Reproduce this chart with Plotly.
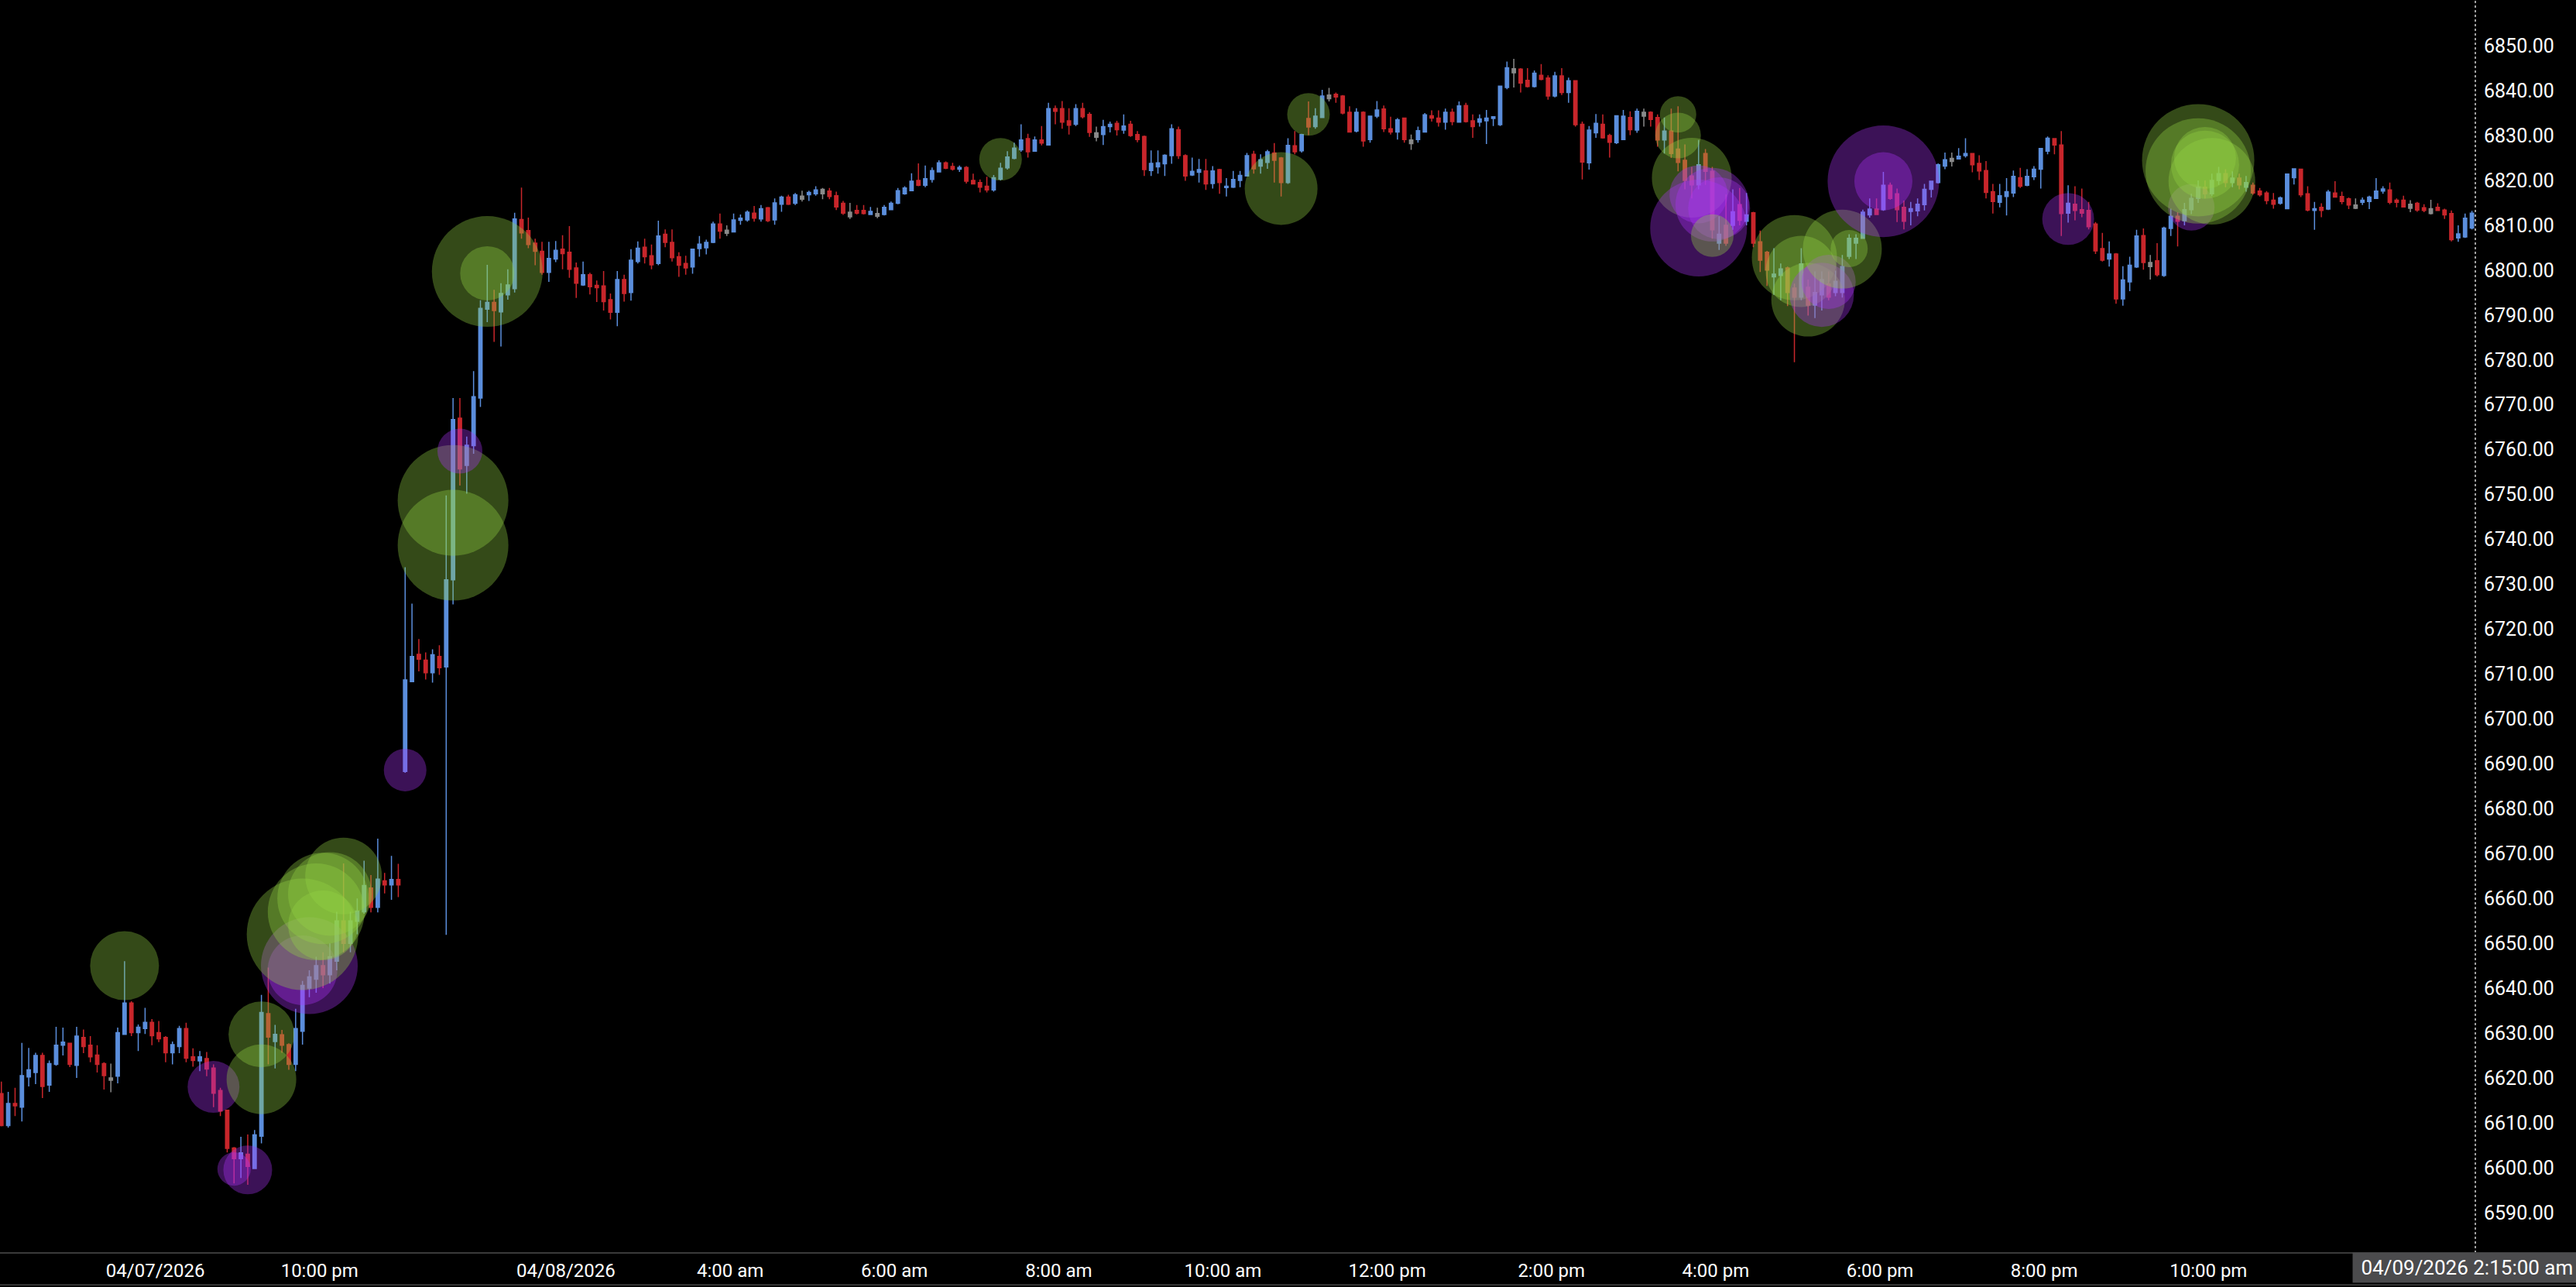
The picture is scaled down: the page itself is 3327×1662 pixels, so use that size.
import plotly.graph_objects as go

# ---------------- data (5-minute bars, indexed 0..361) ----------------
opens = [
    6616.5, 6609.4, 6614.3, 6613.5, 6620.2, 6621.2, 6625.0, 6618.4, 6623.0, 6627.3,
    6627.7, 6622.8, 6629.0, 6627.3, 6625.1, 6623.2, 6620.0, 6620.4, 6629.7, 6636.7,
    6630.1, 6631.0, 6632.4, 6630.1, 6629.0, 6625.6, 6627.0, 6631.0, 6624.7, 6623.8,
    6624.3, 6622.2, 6617.2, 6612.8, 6604.4, 6602.0, 6603.0, 6599.8, 6607.0, 6634.3,
    6628.1, 6629.6, 6627.4, 6623.0, 6630.4, 6640.0, 6642.0, 6645.0, 6643.0, 6646.0,
    6655.0, 6650.0, 6654.9, 6657.0, 6662.3, 6658.0, 6663.9, 6663.0, 6664.2, 6688.3,
    6708.3, 6714.4, 6713.1, 6710.3, 6713.9, 6711.6, 6731.0, 6767.0, 6756.5, 6760.9,
    6771.5, 6791.3, 6792.8, 6790.7, 6794.5, 6795.9, 6811.3, 6808.8, 6806.0, 6804.2,
    6799.5, 6802.5, 6804.7, 6804.0, 6800.5, 6796.7, 6799.0, 6796.6, 6796.5, 6793.4,
    6790.6, 6797.9, 6795.0, 6801.9, 6805.1, 6803.2, 6801.5, 6808.0, 6806.2, 6803.0,
    6801.5, 6800.7, 6804.8, 6805.0, 6806.2, 6810.3, 6808.9, 6808.5, 6811.1, 6811.2,
    6812.7, 6811.4, 6813.9, 6811.2, 6814.7, 6816.3, 6814.9, 6816.5, 6816.8, 6817.0,
    6818.0, 6817.6, 6816.6, 6814.9, 6812.9, 6813.3, 6813.3, 6812.4, 6812.6, 6812.4,
    6813.5, 6814.9, 6817.0, 6817.7, 6820.0, 6818.9, 6820.2, 6821.9, 6823.9, 6823.1,
    6822.5, 6822.9, 6820.0, 6819.5, 6818.7, 6817.9, 6820.3, 6822.8, 6824.9, 6826.8,
    6829.3, 6826.5, 6829.0, 6827.9, 6836.0, 6836.0, 6833.3, 6832.5, 6836.0, 6834.7,
    6830.6, 6830.2, 6832.0, 6832.7, 6831.2, 6832.5, 6830.2, 6829.8, 6822.2, 6823.0,
    6823.7, 6825.5, 6831.3, 6825.5, 6821.2, 6821.8, 6822.1, 6819.3, 6822.4, 6818.4,
    6818.5, 6820.0, 6821.0, 6825.8, 6823.2, 6824.0, 6826.1, 6825.0, 6819.5, 6827.7,
    6826.6, 6833.8, 6832.0, 6834.0, 6839.0, 6839.2, 6838.8, 6835.2, 6831.0, 6835.2,
    6829.1, 6834.3, 6835.9, 6831.5, 6830.8, 6833.9, 6829.0, 6829.1, 6830.8, 6834.4,
    6833.9, 6833.0, 6835.2, 6833.0, 6836.7, 6833.3, 6833.0, 6833.3, 6833.8, 6832.4,
    6840.7, 6844.9, 6844.8, 6842.3, 6840.9, 6843.4, 6842.8, 6838.8, 6843.3, 6839.6,
    6842.2, 6832.5, 6823.9, 6830.6, 6832.5, 6830.0, 6828.4, 6829.1, 6834.0, 6831.2,
    6835.2, 6835.2, 6834.0, 6829.0, 6831.0, 6827.0, 6824.5, 6821.0, 6819.0, 6826.0,
    6822.0, 6806.0, 6810.0, 6810.0, 6814.6, 6810.9, 6812.8, 6806.3, 6804.0, 6798.5,
    6798.8, 6800.5, 6796.0, 6794.0, 6796.2, 6792.2, 6794.5, 6796.9, 6795.0, 6795.0,
    6803.1, 6806.0, 6807.1, 6812.3, 6813.6, 6813.5, 6818.9, 6817.0, 6814.0, 6813.1,
    6813.2, 6814.6, 6818.0, 6819.5, 6823.2, 6824.9, 6824.8, 6825.5, 6826.0, 6823.8,
    6822.2, 6817.5, 6815.1, 6816.4, 6817.2, 6820.6, 6818.9, 6820.8, 6822.5, 6826.5,
    6829.3, 6827.9, 6812.7, 6814.7, 6813.5, 6813.3, 6810.3, 6804.8, 6802.5, 6803.6,
    6793.6, 6797.4, 6800.7, 6807.7, 6801.7, 6802.1, 6798.8, 6809.3, 6812.0, 6811.0,
    6813.5, 6816.0, 6818.5, 6817.0, 6820.0, 6821.5, 6819.5, 6820.5, 6818.5, 6818.9,
    6817.6, 6817.2, 6815.6, 6814.9, 6813.7, 6820.6, 6822.5, 6817.0, 6813.3, 6814.0,
    6813.6, 6817.2, 6816.4, 6815.9, 6814.5, 6815.1, 6815.3, 6816.0, 6817.6, 6817.9,
    6815.6, 6815.6, 6814.7, 6814.9, 6813.9, 6813.7, 6814.0, 6813.4, 6812.6, 6807.2,
    6807.4, 6809.4,
]
highs = [
    6619.2, 6616.9, 6617.8, 6627.8, 6626.7, 6625.6, 6625.6, 6623.9, 6631.4, 6631.2,
    6627.8, 6631.4, 6630.8, 6629.3, 6627.3, 6623.5, 6623.2, 6631.2, 6646.0, 6637.1,
    6631.9, 6635.6, 6633.1, 6632.7, 6629.3, 6628.1, 6631.6, 6632.3, 6626.6, 6626.0,
    6625.8, 6623.0, 6617.8, 6612.8, 6604.6, 6606.9, 6607.4, 6608.4, 6638.5, 6644.6,
    6631.8, 6630.7, 6627.7, 6635.4, 6641.6, 6644.0, 6647.0, 6648.0, 6650.0, 6657.0,
    6667.8, 6657.0, 6660.0, 6668.4, 6665.2, 6673.3, 6665.7, 6669.5, 6667.7, 6733.8,
    6725.7, 6717.8, 6714.8, 6715.5, 6716.4, 6749.8, 6771.5, 6771.5, 6762.9, 6777.5,
    6793.3, 6801.2, 6795.6, 6797.1, 6800.2, 6812.8, 6818.4, 6811.7, 6807.0, 6806.3,
    6806.3, 6806.5, 6807.8, 6809.8, 6801.7, 6801.9, 6799.4, 6797.7, 6799.8, 6794.8,
    6799.8, 6799.0, 6804.7, 6806.4, 6807.0, 6805.7, 6811.0, 6809.1, 6809.1, 6804.0,
    6803.2, 6804.8, 6807.6, 6806.8, 6810.8, 6812.6, 6810.0, 6812.6, 6812.4, 6813.3,
    6814.3, 6814.5, 6814.1, 6816.0, 6816.6, 6816.8, 6817.2, 6817.7, 6817.7, 6818.7,
    6818.3, 6818.3, 6817.5, 6815.4, 6815.0, 6814.5, 6814.5, 6814.1, 6813.9, 6814.5,
    6815.3, 6818.3, 6818.7, 6821.6, 6823.8, 6823.3, 6822.9, 6824.5, 6824.2, 6823.9,
    6823.3, 6823.2, 6821.5, 6820.2, 6820.8, 6821.2, 6823.9, 6826.5, 6828.4, 6832.5,
    6830.4, 6829.8, 6832.1, 6837.3, 6836.7, 6837.7, 6836.1, 6837.0, 6837.3, 6835.2,
    6832.0, 6833.5, 6833.1, 6833.3, 6834.7, 6833.3, 6831.0, 6830.0, 6826.7, 6826.7,
    6825.8, 6832.5, 6832.0, 6825.8, 6825.1, 6824.8, 6824.8, 6823.2, 6822.6, 6820.5,
    6822.1, 6822.1, 6826.1, 6826.6, 6825.8, 6826.8, 6828.3, 6825.2, 6829.4, 6831.0,
    6830.4, 6837.6, 6836.1, 6840.2, 6840.6, 6839.6, 6839.0, 6836.5, 6836.1, 6835.4,
    6834.4, 6837.7, 6836.7, 6834.2, 6833.9, 6834.0, 6830.2, 6832.0, 6835.0, 6835.6,
    6835.6, 6836.0, 6836.0, 6837.6, 6837.3, 6834.7, 6834.7, 6835.7, 6834.3, 6841.1,
    6846.5, 6847.1, 6845.0, 6845.0, 6844.5, 6845.9, 6843.4, 6844.2, 6845.0, 6842.9,
    6842.3, 6833.1, 6832.1, 6834.8, 6834.7, 6830.4, 6834.4, 6835.7, 6835.4, 6836.0,
    6836.0, 6835.4, 6834.7, 6834.0, 6836.0, 6836.5, 6828.0, 6823.0, 6829.0, 6827.0,
    6823.0, 6812.0, 6816.9, 6818.0, 6818.3, 6817.2, 6813.0, 6808.8, 6804.3, 6804.9,
    6801.5, 6800.8, 6797.0, 6804.9, 6797.9, 6799.7, 6799.7, 6799.7, 6799.9, 6803.4,
    6808.0, 6808.0, 6813.5, 6816.0, 6816.0, 6821.9, 6819.5, 6818.2, 6815.5, 6815.2,
    6816.0, 6819.2, 6819.9, 6823.8, 6826.2, 6826.2, 6827.2, 6829.4, 6826.1, 6825.6,
    6824.3, 6819.2, 6819.2, 6820.5, 6822.2, 6822.8, 6822.5, 6823.2, 6827.2, 6829.8,
    6829.4, 6831.0, 6818.9, 6818.7, 6818.2, 6815.2, 6810.7, 6808.3, 6806.4, 6803.8,
    6800.9, 6803.0, 6809.0, 6809.3, 6803.4, 6806.0, 6809.7, 6813.7, 6812.9, 6815.0,
    6817.0, 6820.0, 6820.0, 6821.5, 6823.0, 6822.5, 6822.0, 6821.5, 6821.0, 6819.5,
    6818.3, 6817.6, 6817.2, 6816.4, 6821.5, 6822.7, 6822.5, 6818.7, 6815.2, 6814.9,
    6817.9, 6819.8, 6817.5, 6816.2, 6816.0, 6816.2, 6816.6, 6820.5, 6818.7, 6819.5,
    6816.0, 6816.6, 6815.6, 6815.2, 6814.7, 6815.7, 6814.9, 6813.7, 6813.3, 6810.0,
    6812.6, 6813.2,
]
lows = [
    6609.2, 6608.9, 6611.5, 6610.3, 6618.1, 6618.6, 6615.5, 6616.9, 6622.7, 6625.0,
    6622.4, 6620.0, 6625.5, 6623.5, 6621.2, 6617.4, 6616.8, 6618.8, 6629.6, 6629.3,
    6626.0, 6629.8, 6627.3, 6628.0, 6623.5, 6623.0, 6625.5, 6623.5, 6622.5, 6621.5,
    6620.4, 6613.5, 6611.5, 6603.4, 6596.5, 6597.7, 6596.2, 6599.7, 6605.4, 6623.0,
    6622.1, 6625.6, 6621.8, 6621.5, 6627.4, 6638.0, 6639.0, 6640.0, 6641.0, 6644.0,
    6648.0, 6648.0, 6652.0, 6656.6, 6656.9, 6656.9, 6661.1, 6659.7, 6660.3, 6688.0,
    6708.3, 6710.6, 6708.8, 6708.1, 6709.8, 6651.9, 6725.5, 6752.0, 6750.2, 6759.1,
    6769.5, 6788.4, 6784.0, 6783.0, 6793.4, 6795.0, 6807.0, 6804.9, 6801.1, 6799.0,
    6797.4, 6801.8, 6800.2, 6798.3, 6793.8, 6796.5, 6794.6, 6792.9, 6791.0, 6789.0,
    6787.5, 6793.0, 6793.2, 6801.5, 6801.5, 6800.2, 6801.1, 6805.1, 6801.9, 6798.5,
    6799.0, 6799.2, 6803.0, 6803.5, 6806.0, 6807.0, 6807.6, 6808.4, 6810.1, 6810.8,
    6810.8, 6810.8, 6810.7, 6810.1, 6813.0, 6814.5, 6814.5, 6815.3, 6815.4, 6816.6,
    6815.8, 6815.8, 6813.4, 6812.3, 6811.4, 6812.4, 6812.4, 6812.3, 6811.6, 6812.2,
    6813.4, 6814.7, 6816.8, 6817.6, 6818.7, 6818.5, 6819.5, 6821.8, 6822.5, 6822.2,
    6821.9, 6819.3, 6819.1, 6817.3, 6817.3, 6817.5, 6820.0, 6822.4, 6824.7, 6826.4,
    6825.1, 6826.4, 6827.8, 6827.9, 6832.5, 6831.5, 6830.2, 6832.1, 6833.8, 6829.7,
    6828.7, 6827.9, 6830.7, 6830.0, 6830.4, 6829.7, 6828.5, 6821.0, 6821.0, 6821.5,
    6821.0, 6823.7, 6824.8, 6819.9, 6821.0, 6819.5, 6817.9, 6818.2, 6817.0, 6816.4,
    6818.3, 6818.5, 6820.9, 6821.5, 6821.5, 6822.6, 6819.5, 6816.4, 6819.2, 6825.8,
    6826.2, 6830.1, 6831.5, 6833.9, 6837.6, 6837.3, 6834.7, 6830.7, 6830.7, 6827.5,
    6828.4, 6833.9, 6830.8, 6830.2, 6829.1, 6828.4, 6826.8, 6828.4, 6830.7, 6833.1,
    6832.0, 6831.3, 6832.3, 6832.9, 6832.9, 6829.5, 6832.0, 6828.1, 6832.1, 6832.1,
    6840.3, 6840.7, 6839.6, 6840.7, 6840.7, 6842.3, 6838.0, 6838.5, 6839.0, 6837.3,
    6832.0, 6820.2, 6822.4, 6829.5, 6829.3, 6825.1, 6828.1, 6829.0, 6830.1, 6830.6,
    6832.0, 6832.0, 6827.5, 6826.0, 6825.0, 6822.0, 6818.0, 6816.0, 6818.0, 6819.0,
    6807.0, 6804.5, 6805.4, 6809.0, 6810.0, 6810.0, 6805.1, 6799.6, 6796.5, 6794.5,
    6793.3, 6792.0, 6779.5, 6793.3, 6789.9, 6789.3, 6791.0, 6793.3, 6794.2, 6793.9,
    6802.5, 6802.5, 6807.1, 6811.7, 6812.3, 6813.2, 6815.7, 6810.7, 6809.1, 6810.0,
    6812.0, 6813.3, 6816.2, 6819.3, 6822.5, 6823.1, 6824.7, 6825.1, 6821.8, 6820.1,
    6816.0, 6812.6, 6814.0, 6812.2, 6816.3, 6818.3, 6818.7, 6820.1, 6818.2, 6825.8,
    6825.8, 6807.6, 6810.6, 6811.1, 6811.8, 6809.1, 6803.6, 6801.9, 6800.8, 6792.5,
    6792.1, 6795.3, 6800.5, 6800.1, 6797.9, 6798.6, 6798.5, 6807.6, 6805.3, 6810.0,
    6812.5, 6815.0, 6816.0, 6816.5, 6819.0, 6818.5, 6818.5, 6818.0, 6817.5, 6816.8,
    6816.4, 6814.7, 6813.7, 6814.6, 6813.6, 6819.1, 6816.3, 6813.1, 6809.0, 6811.8,
    6813.4, 6816.2, 6814.7, 6813.6, 6813.6, 6814.5, 6813.6, 6815.9, 6817.0, 6814.7,
    6814.0, 6814.0, 6812.9, 6813.0, 6812.9, 6812.4, 6813.2, 6811.4, 6806.4, 6806.3,
    6807.2, 6809.1,
]
closes = [
    6609.4, 6614.3, 6613.8, 6620.5, 6621.8, 6625.0, 6618.1, 6623.2, 6627.3, 6628.0,
    6623.0, 6629.3, 6627.0, 6624.7, 6623.0, 6620.5, 6619.5, 6630.1, 6636.7, 6630.1,
    6631.3, 6632.4, 6629.4, 6628.7, 6625.6, 6627.4, 6631.0, 6624.4, 6623.9, 6624.7,
    6622.0, 6616.6, 6612.6, 6604.3, 6602.0, 6603.3, 6600.3, 6607.3, 6634.6, 6629.1,
    6629.7, 6627.3, 6623.0, 6631.0, 6640.6, 6642.5, 6645.0, 6643.0, 6647.0, 6655.0,
    6650.0, 6655.0, 6657.2, 6662.9, 6658.0, 6664.3, 6663.0, 6664.2, 6663.0, 6708.7,
    6713.9, 6713.3, 6710.3, 6714.3, 6711.4, 6731.0, 6766.7, 6755.7, 6761.0, 6771.8,
    6791.5, 6792.8, 6791.0, 6794.8, 6796.7, 6811.4, 6808.3, 6805.7, 6804.2, 6799.5,
    6802.6, 6804.4, 6803.7, 6800.2, 6797.1, 6799.0, 6796.3, 6796.1, 6793.0, 6790.6,
    6797.9, 6794.8, 6802.2, 6804.9, 6803.0, 6801.2, 6807.6, 6806.2, 6802.8, 6801.1,
    6800.5, 6804.7, 6805.8, 6806.2, 6810.3, 6808.7, 6808.2, 6811.2, 6811.6, 6812.9,
    6811.6, 6813.7, 6811.0, 6815.0, 6816.3, 6814.7, 6816.8, 6815.8, 6817.3, 6817.9,
    6817.0, 6816.4, 6814.1, 6812.7, 6811.9, 6812.7, 6812.6, 6813.1, 6812.0, 6814.0,
    6814.9, 6817.7, 6818.3, 6819.8, 6818.9, 6820.4, 6822.2, 6823.9, 6822.7, 6822.5,
    6822.9, 6819.8, 6819.2, 6818.5, 6817.9, 6820.6, 6822.7, 6825.2, 6827.2, 6829.0,
    6826.4, 6829.0, 6828.3, 6836.0, 6835.4, 6833.0, 6832.3, 6836.0, 6834.2, 6830.7,
    6829.6, 6832.0, 6832.5, 6831.3, 6832.1, 6830.0, 6829.1, 6822.4, 6823.8, 6823.9,
    6825.6, 6831.5, 6825.5, 6821.0, 6822.0, 6822.4, 6819.2, 6822.1, 6819.5, 6818.7,
    6820.2, 6821.1, 6825.5, 6822.6, 6824.6, 6826.4, 6824.5, 6819.5, 6827.8, 6826.4,
    6830.2, 6831.9, 6834.3, 6838.8, 6838.2, 6838.6, 6835.0, 6830.8, 6835.2, 6828.8,
    6834.3, 6835.7, 6831.5, 6830.8, 6833.5, 6829.1, 6828.2, 6831.1, 6834.6, 6833.9,
    6833.0, 6835.2, 6833.1, 6836.6, 6833.1, 6832.0, 6833.7, 6833.9, 6834.2, 6841.0,
    6845.1, 6844.0, 6841.7, 6840.9, 6843.9, 6842.5, 6838.8, 6843.3, 6839.6, 6842.2,
    6832.4, 6824.1, 6831.2, 6832.7, 6829.5, 6828.5, 6834.4, 6834.3, 6831.3, 6835.4,
    6834.3, 6833.6, 6829.0, 6831.0, 6826.0, 6824.0, 6820.0, 6819.0, 6823.5, 6822.0,
    6809.0, 6808.0, 6806.0, 6813.0, 6811.1, 6812.3, 6806.0, 6802.2, 6800.0, 6799.1,
    6800.3, 6795.0, 6794.0, 6801.4, 6792.2, 6795.0, 6797.9, 6794.0, 6797.5, 6800.8,
    6807.1, 6807.1, 6812.9, 6813.6, 6812.4, 6818.9, 6816.0, 6813.5, 6810.9, 6813.7,
    6814.7, 6818.0, 6819.8, 6823.5, 6824.6, 6824.2, 6825.4, 6826.0, 6823.5, 6822.1,
    6817.3, 6815.3, 6816.6, 6817.5, 6820.9, 6818.7, 6820.9, 6822.5, 6827.1, 6829.4,
    6827.9, 6812.6, 6814.9, 6813.3, 6812.7, 6809.7, 6804.3, 6802.2, 6803.6, 6793.6,
    6797.8, 6801.1, 6807.6, 6801.7, 6800.8, 6799.0, 6809.4, 6812.0, 6810.9, 6813.5,
    6816.0, 6818.5, 6817.0, 6820.0, 6821.5, 6819.5, 6820.5, 6819.0, 6819.5, 6817.2,
    6816.8, 6815.5, 6814.7, 6816.1, 6821.4, 6822.6, 6816.8, 6813.4, 6813.7, 6813.3,
    6817.4, 6816.3, 6815.3, 6814.5, 6813.8, 6815.6, 6816.3, 6817.6, 6818.1, 6815.1,
    6815.1, 6814.1, 6813.8, 6813.4, 6813.3, 6812.6, 6813.3, 6812.3, 6806.8, 6808.1,
    6811.6, 6812.7,
]
# bars printed as unchanged (grey) candles
doji_bars = [16, 106, 117, 120, 124, 128, 160, 194, 206, 221, 240, 285, 314, 344, 352, 355]

# volume bubbles: bar index, price, traded volume, aggressor side
bubble_bar = [18, 31, 38, 38, 34, 36, 45, 44, 44, 46,
              47, 48, 47, 50, 59, 66, 66, 67, 71, 71,
              146, 187, 191, 245, 245, 247, 248, 250, 251, 248,
              250, 262, 263, 264, 266, 267, 269, 270, 275, 275,
              302, 320, 321, 321, 322, 323, 322]
bubble_price = [6645.0, 6618.0, 6629.7, 6619.7, 6599.7, 6599.5, 6645.0, 6644.0, 6652.0, 6657.0,
                6660.0, 6661.0, 6654.0, 6665.0, 6688.6, 6748.7, 6738.7, 6759.7, 6799.7, 6799.3,
                6824.7, 6818.2, 6834.7, 6834.7, 6830.0, 6820.6, 6809.4, 6814.6, 6813.8, 6816.9,
                6807.7, 6802.8, 6799.7, 6793.4, 6794.5, 6797.4, 6804.7, 6804.8, 6819.8, 6819.8,
                6811.4, 6814.0, 6824.5, 6822.1, 6823.5, 6819.8, 6825.0]
bubble_vol = [792, 449, 723, 810, 185, 397, 1563, 810, 2074, 1563,
              1392, 1166, 810, 980, 303, 2045, 2045, 336, 2045, 490,
              303, 884, 303, 221, 348, 1061, 1563, 903, 640, 563,
              303, 1210, 846, 903, 689, 490, 1040, 230, 2074, 563,
              449, 360, 2103, 1850, 774, 1254, 640]
bubble_side = ['buy', 'sell', 'buy', 'buy', 'sell', 'sell', 'sell', 'sell', 'buy', 'buy',
               'buy', 'buy', 'buy', 'buy', 'sell', 'buy', 'buy', 'sell', 'buy', 'buy',
               'buy', 'buy', 'buy', 'buy', 'buy', 'buy', 'sell', 'sell', 'sell', 'sell',
               'buy', 'buy', 'buy', 'buy', 'sell', 'sell', 'buy', 'buy', 'sell', 'sell',
               'sell', 'sell', 'buy', 'buy', 'buy', 'buy', 'buy']

tick_bars = [22.5, 46.5, 82.5, 106.5, 130.5, 154.5, 178.5, 202.5, 226.5, 250.5, 274.5, 298.5, 322.5]
tick_text = ["04/07/2026", "10:00 pm", "04/08/2026", "4:00 am", "6:00 am", "8:00 am",
             "10:00 am", "12:00 pm", "2:00 pm", "4:00 pm", "6:00 pm", "8:00 pm", "10:00 pm"]
cursor_label = "04/09/2026 2:15:00 am"

# ---------------- styling ----------------
BLUE = '#5b8edc'
RED = '#c8262b'
GREY = '#8a8a8a'
BUY = 'rgba(148, 212, 70, 0.5)'
SELL = 'rgba(172, 52, 250, 0.5)'
FONT = 'Roboto'

doji = set(doji_bars)
normal = [i for i in range(len(opens)) if i not in doji]
flat = [i for i in range(len(opens)) if i in doji]

fig = go.Figure()


def pick(arr, idx):
    return [arr[i] for i in idx]


fig.add_trace(go.Candlestick(
    x=normal, open=pick(opens, normal), high=pick(highs, normal),
    low=pick(lows, normal), close=pick(closes, normal),
    increasing=dict(line=dict(color=BLUE, width=1.5), fillcolor=BLUE),
    decreasing=dict(line=dict(color=RED, width=1.5), fillcolor=RED),
    whiskerwidth=0, hoverinfo='skip', showlegend=False))
fig.add_trace(go.Candlestick(
    x=flat, open=pick(opens, flat), high=pick(highs, flat),
    low=pick(lows, flat), close=pick(closes, flat),
    increasing=dict(line=dict(color=GREY, width=1.5), fillcolor=GREY),
    decreasing=dict(line=dict(color=GREY, width=1.5), fillcolor=GREY),
    whiskerwidth=0, hoverinfo='skip', showlegend=False))

fig.add_trace(go.Scatter(
    x=bubble_bar, y=bubble_price, mode='markers', hoverinfo='skip', showlegend=False,
    marker=dict(size=bubble_vol, sizemode='area', sizeref=0.2,
                color=[BUY if s == 'buy' else SELL for s in bubble_side],
                line=dict(width=0))))

W, H = 3327, 1662
fig.update_layout(
    width=W, height=H,
    margin=dict(l=0, r=130, t=0, b=44),
    paper_bgcolor='black', plot_bgcolor='black',
    showlegend=False,
    xaxis=dict(range=[-0.2, 361.5], tickmode='array', tickvals=tick_bars, ticktext=tick_text,
               showgrid=False, zeroline=False, showline=False, ticks='',
               rangeslider=dict(visible=False), fixedrange=True,
               tickfont=dict(color='white', size=24, family=FONT), ticklabelstandoff=6),
    yaxis=dict(side='right', range=[6581, 6860.2], tick0=6580, dtick=10, tickformat='.2f',
               showgrid=False, zeroline=False, showline=False, ticks='',
               tickfont=dict(color='white', size=25, family=FONT), ticklabelstandoff=10),
    shapes=[
        dict(type='line', xref='paper', yref='paper', x0=1, x1=1, y0=0, y1=1,
             line=dict(color='#a0a0a0', width=2, dash='dot')),
        dict(type='line', xref='paper', yref='paper', x0=0, x1=1.05, y0=0, y1=0,
             line=dict(color='#3a3a3a', width=2)),
        dict(type='line', xref='paper', yref='paper', x0=0, x1=1.05, y0=-0.0255, y1=-0.0255,
             line=dict(color='#3a3a3a', width=2)),
    ],
    annotations=[
        dict(text='\u00a0' + cursor_label + '\u00a0', xref='paper', yref='paper', x=0.9503, y=-0.0118,
             xanchor='left', yanchor='middle', showarrow=False,
             font=dict(color='white', size=26, family=FONT),
             bgcolor='#4b4b4d', borderpad=4),
    ],
)

fig.write_html("out.html", post_script="document.body.style.margin='0';")
